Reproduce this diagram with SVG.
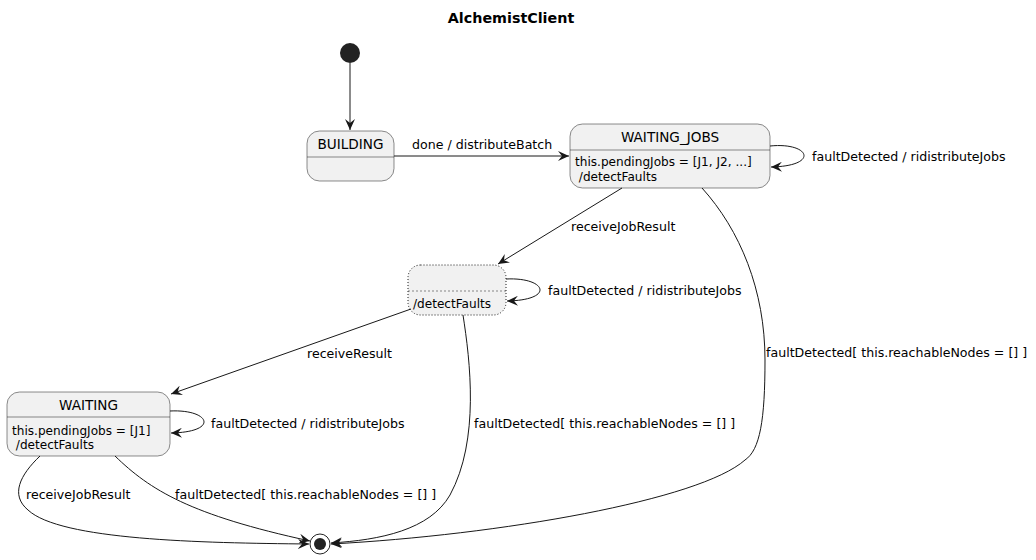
<svg xmlns="http://www.w3.org/2000/svg" width="1036" height="560" viewBox="0 0 1036 560">
<style>
text{font-family:"DejaVu Sans",sans-serif;fill:#000}
.title{font-size:14.3px;font-weight:bold}
.name{font-size:13.6px}
.body{font-size:12.1px}
.lbl{font-size:12.6px}
.st{fill:#F1F1F1;stroke:#181818;stroke-width:0.5}
.dot{fill:#F1F1F1;stroke:#181818;stroke-width:1;stroke-dasharray:1,2}
.div{stroke:#181818;stroke-width:0.5}
.edge{fill:none;stroke:#181818;stroke-width:1}
</style>
<defs>
<marker id="ah" viewBox="0 0 12 10" refX="11" refY="5" markerWidth="12" markerHeight="10" orient="auto" markerUnits="userSpaceOnUse">
<path d="M0,0 L11,5 L0,10 L4,5 Z" fill="#181818"/>
</marker>
</defs>
<rect width="1036" height="560" fill="#fff"/>
<text class="title" x="511" y="23" text-anchor="middle">AlchemistClient</text>

<g id="start"><circle cx="350" cy="53" r="10" fill="#222"/></g>

<g id="BUILDING">
<rect class="st" x="307" y="131" width="87" height="50" rx="12.5"/>
<line class="div" x1="307" y1="157" x2="394" y2="157"/>
<text class="name" x="350.5" y="149" text-anchor="middle">BUILDING</text>
</g>

<g id="WAITING_JOBS">
<rect class="st" x="570" y="124" width="200" height="64" rx="12.5"/>
<line class="div" x1="570" y1="150" x2="770" y2="150"/>
<text class="name" x="670" y="142" text-anchor="middle">WAITING_JOBS</text>
<text class="body" x="575" y="166">this.pendingJobs = [J1, J2, ...]</text>
<text class="body" x="575" y="181" xml:space="preserve"> /detectFaults</text>
</g>

<g id="anon">
<rect class="dot" x="408" y="265" width="98" height="50" rx="12.5"/>
<line class="div" x1="408" y1="291" x2="506" y2="291" stroke-dasharray="2,2"/>
<text class="body" x="413" y="308">/detectFaults</text>
</g>

<g id="WAITING">
<rect class="st" x="7" y="392" width="163" height="64" rx="12.5"/>
<line class="div" x1="7" y1="417" x2="170" y2="417"/>
<text class="name" x="88.5" y="410" text-anchor="middle">WAITING</text>
<text class="body" x="12" y="435">this.pendingJobs = [J1]</text>
<text class="body" x="12" y="449" xml:space="preserve"> /detectFaults</text>
</g>

<g id="end">
<circle cx="320" cy="544" r="10" fill="none" stroke="#222" stroke-width="1"/>
<circle cx="320" cy="544" r="6" fill="#222"/>
</g>

<g id="connectors">
<path class="edge" d="M350,63 L350,130" marker-end="url(#ah)"/>
<path class="edge" d="M394,156 L569,156" marker-end="url(#ah)"/>
<text class="lbl" x="412" y="149">done / distributeBatch</text>

<path class="edge" d="M770,146 C810,142 820,166 771,167" marker-end="url(#ah)"/>
<text class="lbl" x="812" y="161">faultDetected / ridistributeJobs</text>

<path class="edge" d="M622,188 L498,264" marker-end="url(#ah)"/>
<text class="lbl" x="571" y="231">receiveJobResult</text>

<path class="edge" d="M506,279 C546,277 556,300 507,301" marker-end="url(#ah)"/>
<text class="lbl" x="548" y="295">faultDetected / ridistributeJobs</text>

<path class="edge" d="M411,309 L171,394" marker-end="url(#ah)"/>
<text class="lbl" x="307" y="358">receiveResult</text>

<path class="edge" d="M170,411 C210,409 220,432 171,433" marker-end="url(#ah)"/>
<text class="lbl" x="211" y="428">faultDetected / ridistributeJobs</text>

<path class="edge" d="M40,456 C20,475 10,495 28,510 C60,540 200,543 309,544" marker-end="url(#ah)"/>
<text class="lbl" x="26" y="499">receiveJobResult</text>

<path class="edge" d="M115,456 C150,490 190,515 310,541" marker-end="url(#ah)"/>
<text class="lbl" x="175" y="499">faultDetected[ this.reachableNodes = [] ]</text>

<path class="edge" d="M463,315 C470,360 480,440 450,495 C430,530 380,540 331,543" marker-end="url(#ah)"/>
<text class="lbl" x="474" y="428">faultDetected[ this.reachableNodes = [] ]</text>

<path class="edge" d="M702,188 C740,230 765,290 765,360 C765,420 760,450 745,460 C700,500 500,535 331,544" marker-end="url(#ah)"/>
<text class="lbl" x="766" y="357">faultDetected[ this.reachableNodes = [] ]</text>
</g>
</svg>
